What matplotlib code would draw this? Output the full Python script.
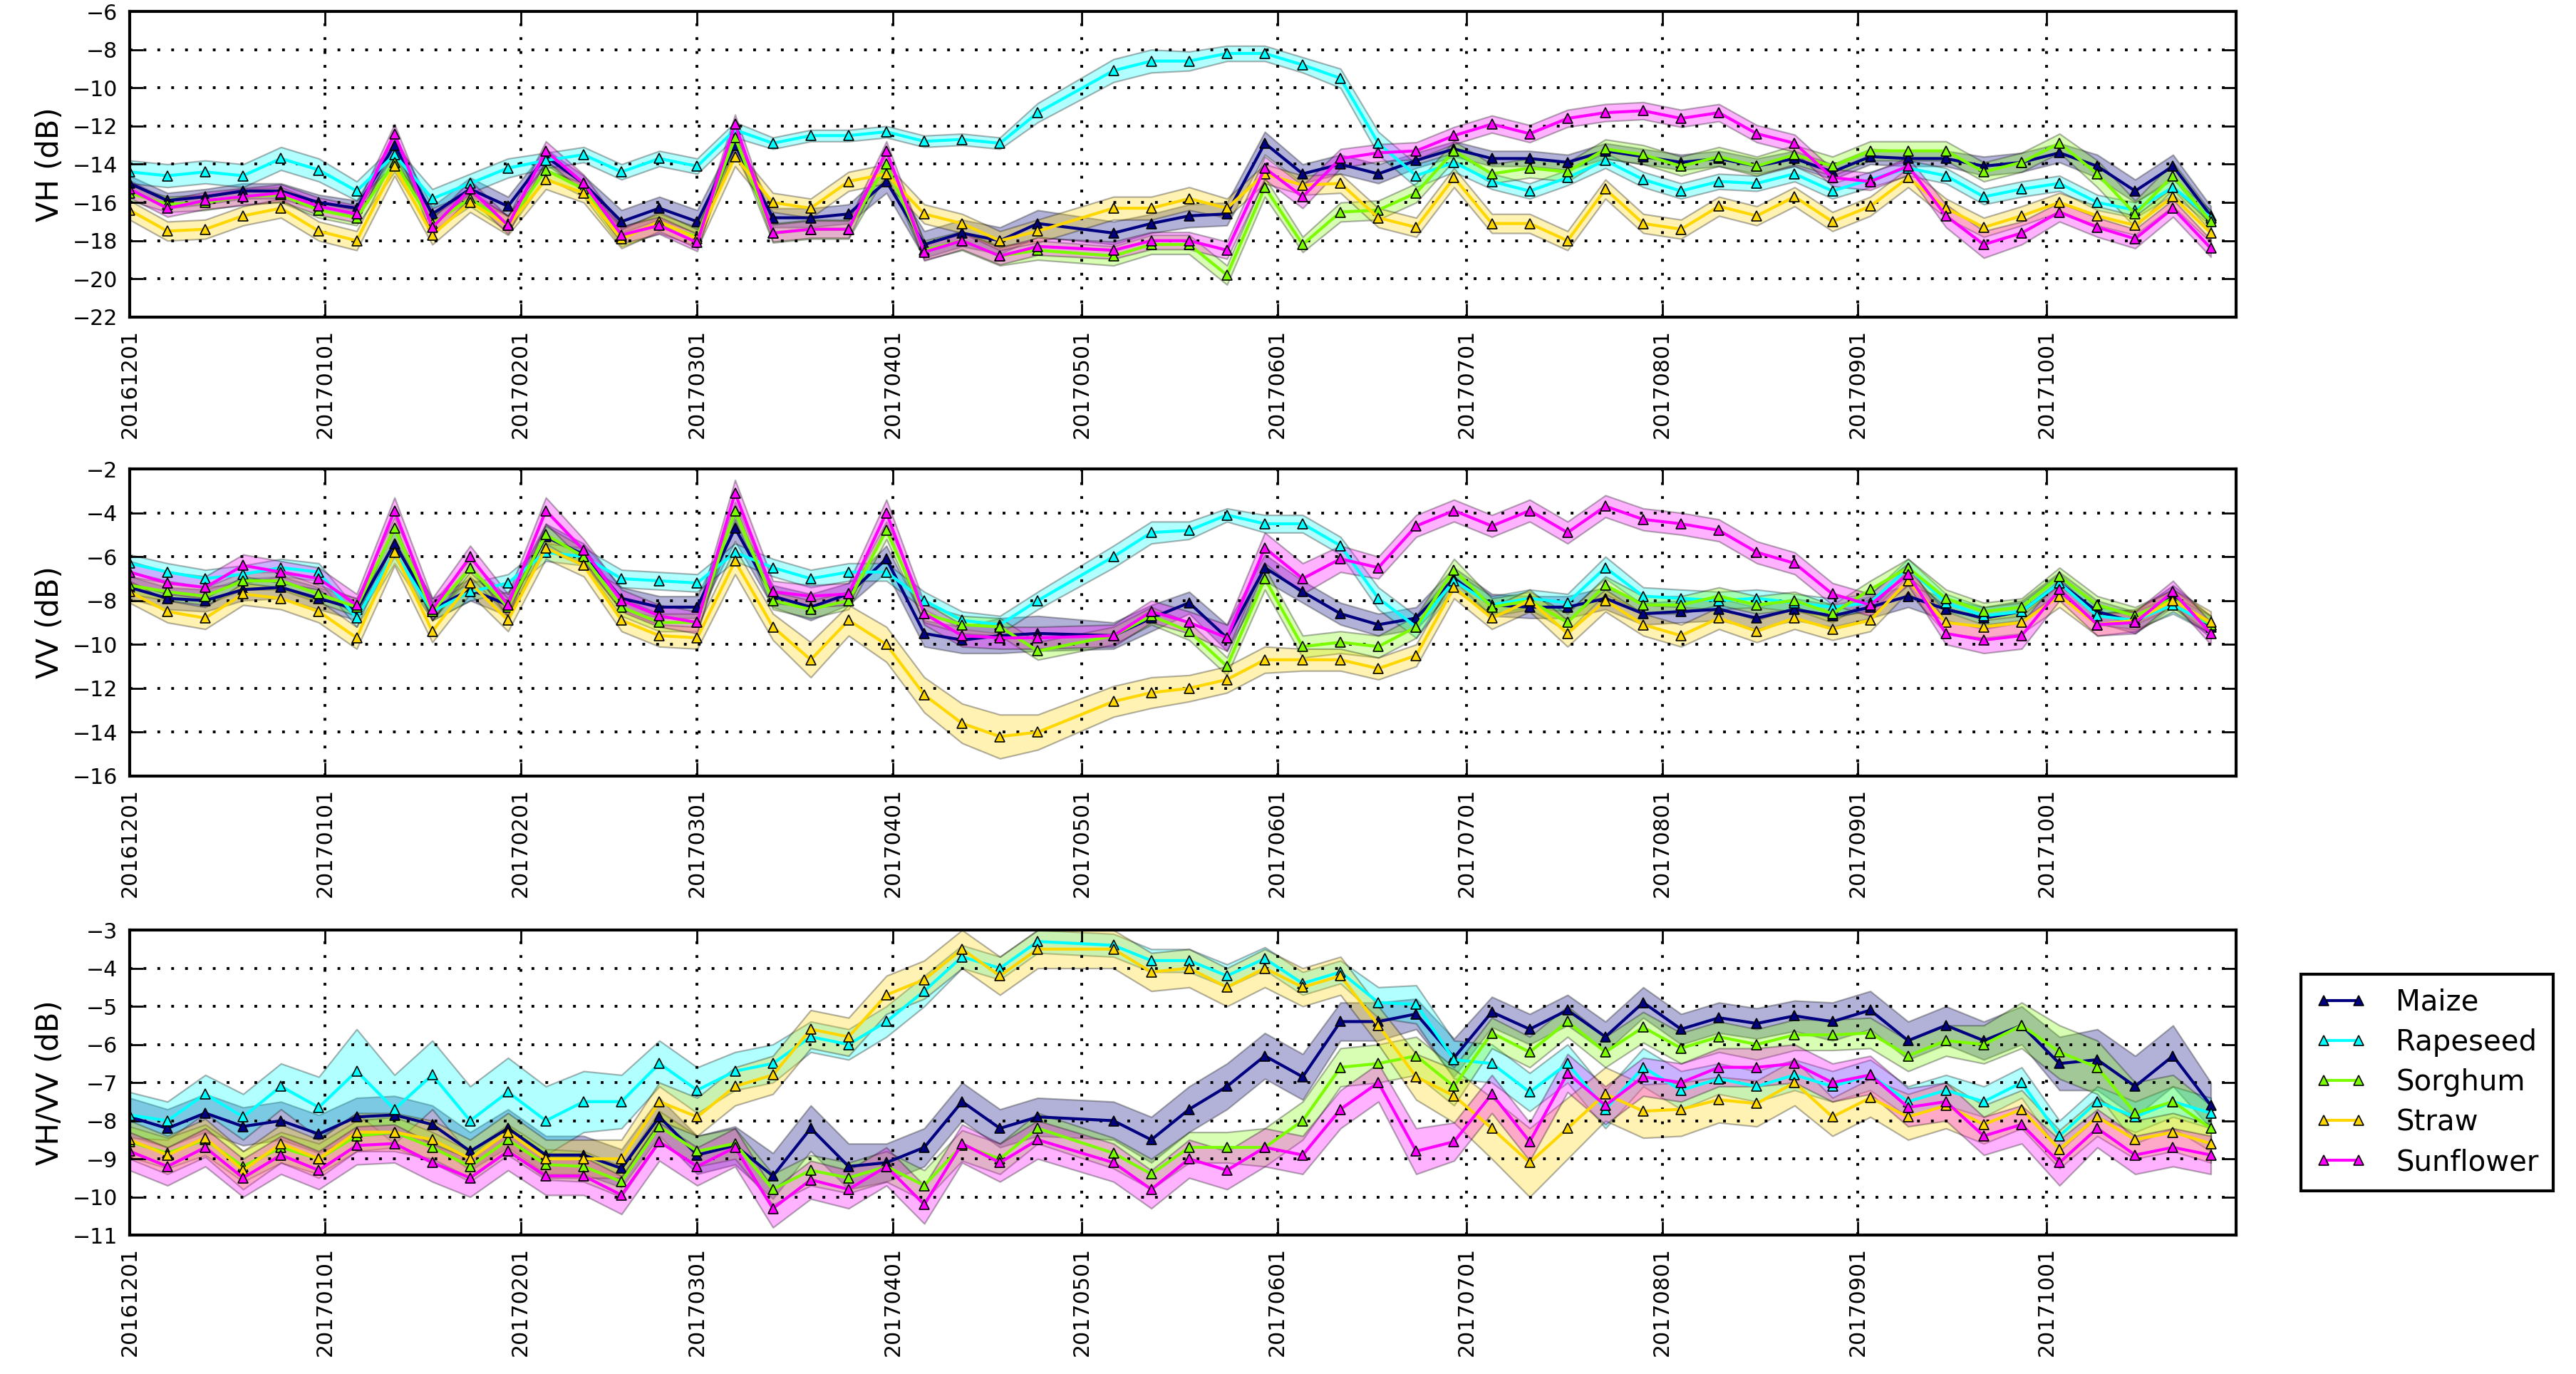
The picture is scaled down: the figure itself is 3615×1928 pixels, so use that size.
import numpy as np
import matplotlib
matplotlib.use('Agg')
import matplotlib.pyplot as plt
import matplotlib.dates as mdates
from datetime import datetime

# Datas de aquisicao (Sentinel-1, 6 dias)
dates = ['20161201', '20161207', '20161213', '20161219', '20161225', '20161231',
         '20170106', '20170112', '20170118', '20170124', '20170130',
         '20170205', '20170211', '20170217', '20170223',
         '20170301', '20170307', '20170313', '20170319', '20170325', '20170331',
         '20170406', '20170412', '20170418', '20170424',
         '20170506', '20170512', '20170518', '20170524', '20170530',
         '20170605', '20170611', '20170617', '20170623', '20170629',
         '20170705', '20170711', '20170717', '20170723', '20170729',
         '20170804', '20170810', '20170816', '20170822', '20170828',
         '20170903', '20170909', '20170915', '20170921', '20170927',
         '20171003', '20171009', '20171015', '20171021', '20171027']

crops = ['Maize', 'Rapeseed', 'Sorghum', 'Straw', 'Sunflower']

# VH (dB) medias
vh_maize = [-15.0, -15.9, -15.7, -15.4, -15.4, -16.0, -16.3, -13.0, -16.6, -15.3,
            -16.2, -13.6, -15.0, -17.0, -16.3, -17.0, -13.0, -16.8, -16.8, -16.6,
            -14.9, -18.2, -17.6, -18.0, -17.1, -17.6, -17.1, -16.7, -16.6, -12.9,
            -14.5, -14.0, -14.5, -13.8, -13.2, -13.7, -13.7, -13.9, -13.3, -13.6,
            -13.9, -13.7, -14.1, -13.7, -14.4, -13.6, -13.7, -13.7, -14.1, -13.9,
            -13.4, -14.1, -15.4, -14.1, -16.7]
vh_rape = [-14.4, -14.6, -14.4, -14.6, -13.7, -14.3, -15.4, -13.5, -15.8, -15.0,
           -14.2, -13.8, -13.5, -14.4, -13.7, -14.1, -12.2, -12.9, -12.5, -12.5,
           -12.3, -12.8, -12.7, -12.9, -11.3, -9.1, -8.6, -8.6, -8.2, -8.2,
           -8.8, -9.5, -12.9, -14.6, -13.9, -14.9, -15.4, -14.7, -13.8, -14.8,
           -15.4, -14.9, -15.0, -14.5, -15.4, -14.8, -14.2, -14.6, -15.7, -15.3,
           -15.0, -16.0, -16.4, -15.2, -16.8]
vh_sorg = [-15.5, -16.1, -16.0, -15.7, -15.6, -16.4, -16.8, -13.9, -17.1, -15.8,
           -17.1, -14.3, -15.3, -17.8, -17.1, -17.8, -12.6, -17.6, -17.4, -17.4,
           -14.0, -18.5, -18.0, -18.8, -18.5, -18.8, -18.2, -18.2, -19.8, -15.2,
           -18.2, -16.5, -16.4, -15.5, -13.3, -14.5, -14.2, -14.4, -13.2, -13.5,
           -14.1, -13.6, -14.1, -13.5, -14.1, -13.3, -13.3, -13.3, -14.4, -13.9,
           -12.9, -14.5, -16.6, -14.6, -17.0]
vh_straw = [-16.4, -17.5, -17.4, -16.7, -16.3, -17.5, -18.0, -14.1, -17.7, -16.0,
            -17.2, -14.8, -15.5, -17.9, -17.0, -17.9, -13.6, -16.0, -16.3, -14.9,
            -14.5, -16.6, -17.1, -18.0, -17.5, -16.3, -16.3, -15.8, -16.3, -14.5,
            -15.1, -15.0, -16.8, -17.3, -14.7, -17.1, -17.1, -18.0, -15.3, -17.1,
            -17.4, -16.2, -16.7, -15.7, -17.0, -16.2, -14.7, -16.3, -17.3, -16.7,
            -16.0, -16.7, -17.2, -15.7, -17.6]
vh_sun = [-15.3, -16.3, -15.9, -15.7, -15.5, -16.2, -16.6, -12.4, -17.3, -15.3,
          -17.2, -13.3, -15.0, -17.7, -17.2, -18.1, -11.9, -17.6, -17.4, -17.4,
          -13.3, -18.6, -18.0, -18.8, -18.3, -18.5, -18.0, -18.0, -18.5, -14.2,
          -15.7, -13.7, -13.4, -13.3, -12.5, -11.9, -12.4, -11.6, -11.3, -11.2,
          -11.6, -11.3, -12.4, -12.9, -14.7, -14.9, -14.1, -16.7, -18.2, -17.6,
          -16.5, -17.3, -17.9, -16.3, -18.4]

# VH desvio padrao
vh_maize_sd = [0.4, 0.4, 0.4, 0.4, 0.4, 0.4, 0.4, 0.5, 0.4, 0.6,
               0.5, 0.4, 0.4, 0.6, 0.6, 0.6, 0.5, 0.5, 0.5, 0.5,
               0.6, 0.7, 0.7, 0.7, 0.7, 0.6, 0.5, 0.6, 0.6, 0.6,
               0.5, 0.5, 0.5, 0.4, 0.4, 0.4, 0.4, 0.4, 0.4, 0.4,
               0.4, 0.4, 0.4, 0.4, 0.4, 0.4, 0.4, 0.4, 0.5, 0.5,
               0.5, 0.6, 0.6, 0.6, 0.5]
vh_rape_sd = [0.6, 0.6, 0.6, 0.6, 0.6, 0.6, 0.5, 0.5, 0.5, 0.5,
              0.5, 0.4, 0.4, 0.4, 0.4, 0.4, 0.4, 0.3, 0.3, 0.3,
              0.3, 0.3, 0.3, 0.3, 0.5, 0.6, 0.6, 0.5, 0.4, 0.4,
              0.4, 0.5, 0.6, 0.6, 0.5, 0.4, 0.4, 0.4, 0.4, 0.4,
              0.4, 0.4, 0.4, 0.4, 0.4, 0.4, 0.4, 0.4, 0.4, 0.4,
              0.4, 0.4, 0.4, 0.4, 0.4]
vh_sorg_sd = [0.4, 0.4, 0.4, 0.4, 0.4, 0.4, 0.4, 0.5, 0.4, 0.4,
              0.4, 0.4, 0.4, 0.5, 0.5, 0.5, 0.5, 0.5, 0.5, 0.5,
              0.5, 0.5, 0.5, 0.5, 0.5, 0.5, 0.5, 0.5, 0.5, 0.5,
              0.4, 0.5, 0.5, 0.5, 0.5, 0.5, 0.5, 0.5, 0.5, 0.5,
              0.5, 0.5, 0.5, 0.5, 0.5, 0.5, 0.5, 0.5, 0.5, 0.5,
              0.5, 0.7, 0.7, 0.7, 0.5]
vh_straw_sd = [0.5, 0.5, 0.5, 0.5, 0.5, 0.5, 0.5, 0.5, 0.5, 0.5,
               0.5, 0.5, 0.5, 0.5, 0.5, 0.5, 0.5, 0.5, 0.5, 0.5,
               0.5, 0.5, 0.5, 0.5, 0.6, 0.6, 0.6, 0.6, 0.5, 0.5,
               0.5, 0.5, 0.5, 0.5, 0.5, 0.5, 0.5, 0.5, 0.5, 0.5,
               0.5, 0.5, 0.5, 0.5, 0.5, 0.5, 0.5, 0.5, 0.5, 0.5,
               0.5, 0.5, 0.5, 0.5, 0.5]
vh_sun_sd = [0.45, 0.45, 0.45, 0.45, 0.45, 0.45, 0.45, 0.5, 0.45, 0.45,
             0.45, 0.5, 0.45, 0.45, 0.45, 0.45, 0.5, 0.45, 0.45, 0.45,
             0.5, 0.45, 0.45, 0.45, 0.45, 0.45, 0.45, 0.45, 0.45, 0.6,
             0.6, 0.5, 0.45, 0.45, 0.45, 0.45, 0.45, 0.45, 0.45, 0.45,
             0.45, 0.45, 0.45, 0.45, 0.45, 0.45, 0.45, 0.6, 0.7, 0.6,
             0.5, 0.5, 0.5, 0.45, 0.45]

# VV (dB) medias
vv_maize = [-7.4, -7.9, -8.0, -7.5, -7.4, -7.9, -8.4, -5.4, -8.4, -7.5,
            -8.2, -5.1, -5.9, -7.9, -8.3, -8.3, -4.7, -7.8, -8.3, -7.7,
            -6.1, -9.5, -9.8, -9.6, -9.5, -9.6, -8.8, -8.1, -9.7, -6.5,
            -7.6, -8.6, -9.1, -8.8, -7.0, -8.2, -8.3, -8.3, -7.9, -8.6,
            -8.5, -8.4, -8.8, -8.4, -8.7, -8.3, -7.8, -8.4, -8.8, -8.5,
            -7.2, -8.5, -9.0, -7.8, -9.2]
vv_rape = [-6.3, -6.7, -7.0, -6.8, -6.5, -6.7, -8.8, -5.8, -8.5, -7.6,
           -7.2, -5.8, -6.0, -7.0, -7.1, -7.2, -5.8, -6.5, -7.0, -6.7,
           -6.7, -8.0, -8.9, -9.1, -8.0, -6.0, -4.9, -4.8, -4.1, -4.5,
           -4.5, -5.5, -7.9, -9.2, -7.1, -8.2, -7.9, -8.1, -6.5, -7.8,
           -7.9, -8.0, -7.9, -8.1, -8.3, -8.1, -6.5, -8.1, -8.7, -8.5,
           -7.2, -8.7, -8.9, -8.2, -9.1]
vv_sorg = [-7.3, -7.6, -7.8, -7.1, -7.1, -7.7, -8.3, -4.7, -8.5, -6.5,
           -8.3, -5.0, -6.0, -8.3, -9.0, -9.0, -3.9, -8.0, -8.4, -8.0,
           -4.8, -8.6, -9.1, -9.2, -10.3, -9.6, -8.7, -9.4, -11.0, -7.0,
           -10.1, -9.9, -10.1, -9.2, -6.6, -8.3, -8.0, -9.0, -7.3, -8.2,
           -8.2, -7.8, -8.2, -8.0, -8.6, -7.5, -6.5, -7.9, -8.5, -8.3,
           -6.9, -8.2, -8.7, -7.9, -9.1]
vv_straw = [-7.6, -8.5, -8.8, -7.7, -7.9, -8.5, -9.7, -5.8, -9.4, -7.2,
            -8.9, -5.6, -6.4, -8.9, -9.6, -9.7, -6.2, -9.2, -10.7, -8.9,
            -10.0, -12.3, -13.6, -14.2, -14.0, -12.6, -12.2, -12.0, -11.6, -10.7,
            -10.7, -10.7, -11.1, -10.5, -7.4, -8.8, -8.0, -9.5, -8.0, -9.1,
            -9.6, -8.8, -9.4, -8.8, -9.3, -8.9, -7.1, -9.0, -9.2, -9.0,
            -7.8, -9.1, -8.9, -8.0, -9.0]
vv_sun = [-6.7, -7.2, -7.4, -6.4, -6.7, -7.0, -8.2, -3.9, -8.4, -6.0,
          -8.2, -3.9, -5.7, -8.0, -8.7, -9.0, -3.1, -7.6, -7.8, -7.7,
          -4.0, -8.6, -9.6, -9.7, -9.7, -9.6, -8.5, -9.0, -9.7, -5.6,
          -7.0, -6.1, -6.5, -4.6, -3.9, -4.6, -3.9, -4.9, -3.7, -4.3,
          -4.5, -4.8, -5.8, -6.3, -7.7, -8.2, -6.8, -9.5, -9.8, -9.6,
          -7.5, -9.1, -9.0, -7.6, -9.5]

# VV desvio padrao
vv_maize_sd = [0.5, 0.5, 0.5, 0.5, 0.5, 0.5, 0.5, 0.6, 0.5, 0.5,
               0.5, 0.6, 0.5, 0.5, 0.5, 0.5, 0.6, 0.5, 0.6, 0.5,
               0.6, 0.6, 0.6, 0.8, 0.8, 0.6, 0.6, 0.5, 0.6, 0.6,
               0.5, 0.5, 0.5, 0.5, 0.5, 0.5, 0.5, 0.5, 0.5, 0.5,
               0.5, 0.5, 0.5, 0.5, 0.5, 0.5, 0.5, 0.5, 0.5, 0.5,
               0.5, 0.5, 0.5, 0.5, 0.5]
vv_rape_sd = [0.4, 0.4, 0.4, 0.4, 0.4, 0.4, 0.4, 0.5, 0.4, 0.4,
              0.4, 0.4, 0.4, 0.4, 0.4, 0.4, 0.4, 0.4, 0.4, 0.4,
              0.4, 0.4, 0.4, 0.4, 0.4, 0.5, 0.5, 0.4, 0.3, 0.4,
              0.4, 0.4, 0.5, 0.5, 0.4, 0.4, 0.4, 0.4, 0.5, 0.4,
              0.4, 0.4, 0.4, 0.4, 0.4, 0.4, 0.4, 0.4, 0.4, 0.4,
              0.4, 0.4, 0.4, 0.4, 0.4]
vv_sorg_sd = [0.4, 0.4, 0.4, 0.4, 0.4, 0.4, 0.4, 0.5, 0.4, 0.4,
              0.4, 0.4, 0.4, 0.4, 0.4, 0.4, 0.4, 0.4, 0.4, 0.4,
              0.4, 0.4, 0.4, 0.4, 0.4, 0.4, 0.4, 0.4, 0.4, 0.5,
              0.5, 0.5, 0.5, 0.5, 0.5, 0.4, 0.4, 0.4, 0.4, 0.4,
              0.4, 0.4, 0.4, 0.4, 0.4, 0.4, 0.4, 0.4, 0.4, 0.4,
              0.4, 0.4, 0.4, 0.4, 0.4]
vv_straw_sd = [0.5, 0.5, 0.5, 0.5, 0.5, 0.5, 0.5, 0.6, 0.5, 0.5,
               0.5, 0.5, 0.5, 0.5, 0.5, 0.5, 0.6, 0.6, 0.8, 0.7,
               0.8, 0.8, 0.9, 1.0, 0.8, 0.7, 0.7, 0.6, 0.6, 0.6,
               0.5, 0.5, 0.5, 0.5, 0.5, 0.5, 0.5, 0.6, 0.5, 0.5,
               0.5, 0.5, 0.5, 0.5, 0.5, 0.5, 0.5, 0.5, 0.5, 0.5,
               0.5, 0.5, 0.5, 0.5, 0.5]
vv_sun_sd = [0.5, 0.5, 0.5, 0.5, 0.5, 0.5, 0.5, 0.6, 0.5, 0.5,
             0.5, 0.6, 0.5, 0.5, 0.5, 0.5, 0.6, 0.5, 0.5, 0.5,
             0.6, 0.5, 0.5, 0.5, 0.5, 0.5, 0.5, 0.5, 0.6, 0.7,
             0.7, 0.6, 0.5, 0.5, 0.5, 0.5, 0.5, 0.5, 0.5, 0.5,
             0.5, 0.5, 0.5, 0.5, 0.5, 0.5, 0.5, 0.5, 0.6, 0.6,
             0.5, 0.5, 0.5, 0.5, 0.5]

# VH/VV (dB) medias
ratio_maize = [-7.9, -8.2, -7.8, -8.15, -8.0, -8.35, -7.9, -7.85, -8.1, -8.8,
               -8.2, -8.9, -8.9, -9.25, -7.9, -8.9, -8.65, -9.45, -8.2, -9.2,
               -9.1, -8.7, -7.5, -8.2, -7.9, -8.0, -8.5, -7.7, -7.1, -6.3,
               -6.85, -5.4, -5.4, -5.2, -6.35, -5.15, -5.6, -5.1, -5.8, -4.9,
               -5.6, -5.3, -5.45, -5.25, -5.4, -5.1, -5.9, -5.5, -5.9, -5.5,
               -6.5, -6.4, -7.1, -6.3, -7.6]
ratio_rape = [-7.85, -8.0, -7.3, -7.9, -7.1, -7.65, -6.7, -7.7, -6.8, -8.0,
              -7.25, -8.0, -7.5, -7.5, -6.5, -7.2, -6.7, -6.5, -5.8, -6.0,
              -5.4, -4.6, -3.7, -4.0, -3.3, -3.4, -3.8, -3.8, -4.2, -3.75,
              -4.4, -4.1, -4.9, -4.95, -6.4, -6.5, -7.25, -6.5, -7.7, -6.6,
              -7.2, -6.9, -7.1, -6.8, -7.1, -6.8, -7.5, -7.2, -7.5, -7.0,
              -8.4, -7.5, -7.9, -7.5, -7.8]
ratio_sorg = [-8.55, -8.85, -8.5, -9.2, -8.7, -9.0, -8.4, -8.3, -8.7, -9.2,
              -8.5, -9.15, -9.2, -9.6, -8.15, -8.8, -8.6, -9.8, -9.3, -9.5,
              -9.2, -9.7, -8.65, -9.0, -8.2, -8.85, -9.4, -8.7, -8.7, -8.7,
              -8.0, -6.6, -6.5, -6.3, -7.1, -5.7, -6.2, -5.4, -6.2, -5.55,
              -6.1, -5.8, -6.0, -5.75, -5.75, -5.7, -6.3, -5.9, -6.0, -5.5,
              -6.2, -6.6, -7.8, -7.5, -8.2]
ratio_straw = [-8.5, -8.9, -8.45, -9.3, -8.6, -9.0, -8.3, -8.3, -8.5, -9.0,
               -8.3, -9.0, -9.0, -9.0, -7.5, -7.9, -7.1, -6.8, -5.6, -5.8,
               -4.7, -4.3, -3.5, -4.2, -3.5, -3.5, -4.1, -4.0, -4.5, -4.0,
               -4.5, -4.2, -5.5, -6.85, -7.35, -8.2, -9.1, -8.2, -7.3, -7.75,
               -7.7, -7.45, -7.55, -7.0, -7.9, -7.4, -7.9, -7.6, -8.1, -7.7,
               -8.75, -7.9, -8.5, -8.3, -8.6]
ratio_sun = [-8.8, -9.2, -8.7, -9.5, -8.9, -9.3, -8.65, -8.6, -9.1, -9.5,
             -8.8, -9.45, -9.45, -9.95, -8.55, -9.2, -8.7, -10.3, -9.55, -9.8,
             -9.2, -10.2, -8.6, -9.1, -8.5, -9.1, -9.8, -9.0, -9.3, -8.7,
             -8.9, -7.7, -7.0, -8.8, -8.55, -7.3, -8.55, -6.75, -7.6, -6.85,
             -7.0, -6.6, -6.6, -6.5, -7.0, -6.8, -7.65, -7.5, -8.4, -8.1,
             -9.1, -8.2, -8.9, -8.7, -8.9]

# VH/VV desvio padrao
ratio_maize_sd = [0.5, 0.5, 0.5, 0.5, 0.5, 0.5, 0.5, 0.5, 0.5, 0.5,
                  0.5, 0.5, 0.5, 0.5, 0.5, 0.5, 0.5, 0.6, 0.6, 0.6,
                  0.5, 0.5, 0.5, 0.5, 0.5, 0.5, 0.6, 0.6, 0.6, 0.6,
                  0.6, 0.5, 0.5, 0.4, 0.5, 0.4, 0.4, 0.4, 0.4, 0.4,
                  0.4, 0.4, 0.4, 0.4, 0.5, 0.5, 0.5, 0.5, 0.5, 0.5,
                  0.7, 0.8, 0.8, 0.8, 0.6]
ratio_rape_sd = [0.6, 0.5, 0.5, 0.6, 0.6, 0.8, 1.1, 0.9, 0.9, 0.9,
                 0.9, 0.9, 0.8, 0.7, 0.6, 0.6, 0.5, 0.5, 0.4, 0.4,
                 0.4, 0.4, 0.3, 0.3, 0.3, 0.3, 0.3, 0.3, 0.3, 0.3,
                 0.3, 0.3, 0.4, 0.5, 0.5, 0.5, 0.5, 0.5, 0.5, 0.5,
                 0.5, 0.4, 0.4, 0.4, 0.4, 0.4, 0.4, 0.4, 0.4, 0.4,
                 0.4, 0.4, 0.4, 0.4, 0.4]
ratio_sorg_sd = [0.4, 0.4, 0.4, 0.4, 0.4, 0.4, 0.4, 0.4, 0.4, 0.4,
                 0.4, 0.4, 0.4, 0.4, 0.4, 0.4, 0.4, 0.4, 0.4, 0.4,
                 0.4, 0.4, 0.4, 0.4, 0.4, 0.4, 0.4, 0.4, 0.4, 0.5,
                 0.5, 0.5, 0.5, 0.5, 0.5, 0.4, 0.4, 0.4, 0.4, 0.4,
                 0.4, 0.4, 0.4, 0.4, 0.4, 0.4, 0.4, 0.4, 0.5, 0.6,
                 0.7, 0.7, 0.8, 0.7, 0.6]
ratio_straw_sd = [0.5, 0.5, 0.5, 0.5, 0.5, 0.5, 0.5, 0.5, 0.5, 0.5,
                  0.5, 0.5, 0.5, 0.5, 0.5, 0.5, 0.5, 0.5, 0.5, 0.5,
                  0.5, 0.5, 0.5, 0.5, 0.5, 0.5, 0.5, 0.5, 0.5, 0.5,
                  0.5, 0.5, 0.5, 0.6, 0.7, 0.8, 0.9, 0.8, 0.7, 0.7,
                  0.7, 0.6, 0.6, 0.6, 0.5, 0.5, 0.6, 0.6, 0.5, 0.5,
                  0.5, 0.5, 0.5, 0.5, 0.5]
ratio_sun_sd = [0.5, 0.5, 0.5, 0.5, 0.5, 0.5, 0.5, 0.5, 0.5, 0.5,
                0.5, 0.5, 0.5, 0.5, 0.5, 0.5, 0.5, 0.5, 0.5, 0.5,
                0.5, 0.5, 0.5, 0.5, 0.5, 0.5, 0.5, 0.5, 0.5, 0.5,
                0.5, 0.5, 0.5, 0.6, 0.5, 0.5, 0.5, 0.5, 0.5, 0.5,
                0.5, 0.5, 0.5, 0.5, 0.5, 0.5, 0.5, 0.5, 0.5, 0.5,
                0.6, 0.5, 0.5, 0.5, 0.5]

cores = ['#000080', '#00ffff', '#7cfc00', '#ffd700', '#ff00ff']


def painel(ax, medias, desvios, ylabel, ylim, ystep):
    x = [datetime.strptime(d, '%Y%m%d') for d in dates]
    for nome, m, s, c in zip(crops, medias, desvios, cores):
        m = np.array(m)
        s = np.array(s)
        ax.fill_between(x, m - s, m + s, facecolor=c, edgecolor='k',
                        alpha=0.3, linewidth=0.8)
        ax.plot(x, m, '-^', color=c, linewidth=1.5, markersize=4.8,
                markeredgecolor='k', markeredgewidth=0.6, label=nome)
    ax.set_xlim(datetime(2016, 12, 1), datetime(2017, 10, 31))
    ax.set_ylim(*ylim)
    ax.set_yticks(np.arange(ylim[0], ylim[1] + 0.1, ystep))
    ax.xaxis.set_major_locator(mdates.MonthLocator())
    ax.xaxis.set_major_formatter(mdates.DateFormatter('%Y%m%d'))
    for lab in ax.get_xticklabels():
        lab.set_rotation(90)
    ax.tick_params(direction='in', top=True, right=True, length=7,
                   width=1.0, labelsize=10.8, pad=6)
    # grade pontilhada nos dois eixos
    ax.grid(True, color='k', linestyle=(0, (1, 4)), linewidth=1.4)
    for sp in ax.spines.values():
        sp.set_linewidth(1.5)
    ax.set_ylabel(ylabel, fontsize=15)


fig = plt.figure(figsize=(18.08, 9.64), dpi=200)
ax1 = fig.add_axes([0.0503, 0.7692, 0.8175, 0.2225])
ax2 = fig.add_axes([0.0503, 0.4352, 0.8175, 0.2235])
ax3 = fig.add_axes([0.0503, 0.1011, 0.8175, 0.2220])

painel(ax1, [vh_maize, vh_rape, vh_sorg, vh_straw, vh_sun],
       [vh_maize_sd, vh_rape_sd, vh_sorg_sd, vh_straw_sd, vh_sun_sd],
       'VH (dB)', (-22, -6), 2)
painel(ax2, [vv_maize, vv_rape, vv_sorg, vv_straw, vv_sun],
       [vv_maize_sd, vv_rape_sd, vv_sorg_sd, vv_straw_sd, vv_sun_sd],
       'VV (dB)', (-16, -2), 2)
painel(ax3, [ratio_maize, ratio_rape, ratio_sorg, ratio_straw, ratio_sun],
       [ratio_maize_sd, ratio_rape_sd, ratio_sorg_sd, ratio_straw_sd, ratio_sun_sd],
       'VH/VV (dB)', (-11, -3), 1)

leg = ax3.legend(loc='center left', bbox_to_anchor=(1.024, 0.5), numpoints=2,
                 fancybox=False, framealpha=1, edgecolor='k', fontsize=14.5,
                 handlelength=1.8, handletextpad=1.0, labelspacing=0.4,
                 borderpad=0.5)
leg.get_frame().set_linewidth(1.5)

fig.savefig('out.png', dpi=200)
